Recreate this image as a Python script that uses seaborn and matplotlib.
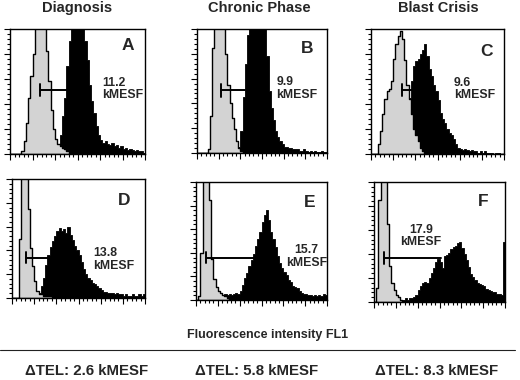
import numpy as np
import pandas as pd
import seaborn as sns
import matplotlib.pyplot as plt
from matplotlib.lines import Line2D
from matplotlib.ticker import MultipleLocator

# column titles and summary values
phases = ['Diagnosis', 'Chronic Phase', 'Blast Crisis']
delta_tel = [2.6, 5.8, 8.3]
letters = ['A', 'B', 'C', 'D', 'E', 'F']
mesf = [11.2, 9.9, 9.6, 13.8, 15.7, 17.9]

# histogram heights (60 channels, % of panel height)
gray_A = [0, 0, 0, 0, 0, 2, 10, 25, 45, 62,
          80, 105, 120, 125, 118, 105, 82, 58, 35, 20,
          12, 8, 6, 5, 4, 2, 0, 0, 0, 0,
          0, 0, 0, 0, 0, 0, 0, 0, 0, 0,
          0, 0, 0, 0, 0, 0, 0, 0, 0, 0,
          0, 0, 0, 0, 0, 0, 0, 0, 0, 0]
black_A = [0, 0, 0, 0, 0, 0, 0, 0, 0, 0,
           0, 0, 0, 0, 0, 0, 0, 0, 0, 0,
           0, 5, 15, 30, 45, 70, 90, 110, 125, 130,
           128, 120, 108, 90, 75, 55, 42, 33, 22, 15,
           11, 9, 10, 8, 7, 9, 6, 7, 5, 6,
           4, 5, 3, 4, 3, 2, 3, 2, 2, 1]
gray_B = [0, 0, 0, 0, 0, 3, 30, 85, 115, 125,
          130, 128, 120, 80, 55, 40, 28, 19, 10, 4,
          2, 0, 0, 0, 0, 0, 0, 0, 0, 0,
          0, 0, 0, 0, 0, 0, 0, 0, 0, 0,
          0, 0, 0, 0, 0, 0, 0, 0, 0, 0,
          0, 0, 0, 0, 0, 0, 0, 0, 0, 0]
black_B = [0, 0, 0, 0, 0, 0, 0, 0, 0, 0,
           0, 0, 0, 0, 0, 0, 0, 0, 0, 5,
           18, 45, 72, 95, 115, 125, 130, 135, 132, 128,
           120, 108, 78, 50, 36, 27, 18, 13, 10, 7,
           5, 5, 4, 4, 3, 3, 3, 2, 2, 3,
           2, 1, 2, 1, 2, 1, 1, 2, 1, 1]
gray_C = [0, 0, 0, 8, 18, 32, 44, 50, 52, 58,
          76, 88, 94, 98, 92, 75, 55, 44, 32, 20,
          15, 10, 5, 2, 0, 0, 0, 0, 0, 0,
          0, 0, 0, 0, 0, 0, 0, 0, 0, 0,
          0, 0, 0, 0, 0, 0, 0, 0, 0, 0,
          0, 0, 0, 0, 0, 0, 0, 0, 0, 0]
black_C = [0, 0, 0, 0, 0, 0, 0, 0, 0, 0,
           0, 0, 5, 10, 15, 22, 35, 45, 58, 70,
           74, 76, 80, 83, 88, 78, 68, 62, 55, 50,
           43, 33, 28, 25, 20, 17, 15, 12, 8, 5,
           4, 3, 4, 3, 2, 3, 2, 2, 1, 2,
           1, 2, 1, 1, 1, 0, 1, 1, 0, 0]
gray_D = [0, 0, 0, 50, 130, 135, 120, 75, 42, 27,
          14, 6, 3, 3, 2, 2, 2, 2, 1, 0,
          0, 0, 0, 0, 0, 0, 0, 0, 0, 0,
          0, 0, 0, 0, 0, 0, 0, 0, 0, 0,
          0, 0, 0, 0, 0, 0, 0, 0, 0, 0,
          0, 0, 0, 0, 0, 0, 0, 0, 0, 0]
black_D = [0, 0, 0, 0, 0, 0, 0, 0, 0, 0,
           0, 0, 4, 10, 17, 28, 36, 43, 48, 52,
           56, 59, 56, 58, 55, 60, 53, 49, 44, 40,
           36, 30, 24, 20, 17, 15, 13, 12, 10, 8,
           7, 5, 5, 4, 4, 4, 3, 4, 3, 3,
           2, 3, 2, 2, 3, 2, 2, 3, 2, 3]
gray_E = [0, 3, 40, 125, 135, 130, 85, 35, 18, 11,
          8, 6, 4, 3, 2, 0, 0, 0, 0, 0,
          0, 0, 0, 0, 0, 0, 0, 0, 0, 0,
          0, 0, 0, 0, 0, 0, 0, 0, 0, 0,
          0, 0, 0, 0, 0, 0, 0, 0, 0, 0,
          0, 0, 0, 0, 0, 0, 0, 0, 0, 0]
black_E = [0, 0, 0, 0, 0, 0, 0, 0, 0, 0,
           2, 3, 4, 5, 4, 5, 4, 5, 6, 5,
           8, 13, 19, 23, 29, 34, 39, 46, 52, 58,
           66, 72, 76, 68, 58, 52, 45, 37, 31, 27,
           24, 21, 17, 15, 12, 11, 10, 8, 6, 5,
           5, 4, 4, 3, 4, 3, 4, 3, 5, 4]
gray_F = [0, 12, 85, 125, 130, 120, 65, 30, 16, 10,
          6, 4, 2, 1, 0, 0, 0, 0, 0, 0,
          0, 0, 0, 0, 0, 0, 0, 0, 0, 0,
          0, 0, 0, 0, 0, 0, 0, 0, 0, 0,
          0, 0, 0, 0, 0, 0, 0, 0, 0, 0,
          0, 0, 0, 0, 0, 0, 0, 0, 0, 0]
black_F = [0, 0, 0, 0, 0, 0, 0, 0, 0, 0,
           0, 1, 2, 2, 3, 2, 3, 3, 4, 6,
           10, 13, 16, 17, 16, 20, 24, 28, 33, 36,
           33, 28, 38, 39, 41, 44, 46, 47, 49, 50,
           45, 40, 35, 29, 23, 21, 18, 16, 15, 14,
           13, 11, 10, 9, 8, 8, 7, 7, 6, 50]

# marker bars (channel from, channel to, height)
bar_from = [13.3, 11.2, 13.8, 6.4, 4.6, 4.6]
bar_to = [25.2, 22.0, 19.8, 16.8, 27.0, 30.9]
bar_y = [51, 50.5, 51, 34, 36, 37]

grays = [gray_A, gray_B, gray_C, gray_D, gray_E, gray_F]
blacks = [black_A, black_B, black_C, black_D, black_E, black_F]

sns.set_style('ticks')
plt.rcParams['font.family'] = ['Liberation Sans', 'DejaVu Sans']

W, H = 520, 380
fig = plt.figure(figsize=(W / 100, H / 100), dpi=100)

# panel boxes in pixels: left, top, right, bottom
boxes = [(10, 29, 145, 154), (197, 29, 327, 153), (371, 29, 504, 154),
         (12, 179, 145, 298), (196, 182, 327, 300), (374, 182, 505, 302)]
# text placement per panel: (x, y, ha) in data units, letter (x, y) in axes frac
label_pos = [(40.8, 52, 'left'), (36.6, 52, 'left'), (37.4, 52, 'left'),
             (36.6, 32, 'left'), (50.6, 37, 'center'), (21.6, 55, 'center')]
letter_pos = [(0.87, 0.87), (0.85, 0.84), (0.87, 0.82),
              (0.84, 0.82), (0.87, 0.83), (0.83, 0.84)]

centers = np.arange(60) + 0.5

for i in range(6):
    l, t, r, b = boxes[i]
    ax = fig.add_axes([l / W, 1 - b / H, (r - l) / W, (b - t) / H])
    df = pd.DataFrame({'channel': centers, 'black': blacks[i], 'gray': grays[i]})
    sns.histplot(data=df, x='channel', weights='black', binwidth=1, binrange=(0, 60),
                 element='step', fill=True, color='black', alpha=1,
                 edgecolor='black', linewidth=0.6, ax=ax)
    sns.histplot(data=df, x='channel', weights='gray', binwidth=1, binrange=(0, 60),
                 element='step', fill=True, color='#d3d3d3', alpha=1,
                 edgecolor='black', linewidth=1.0, ax=ax)
    ax.set(xlim=(0, 60), ylim=(0, 100), xlabel='', ylabel='')

    # marker bar
    ax.plot([bar_from[i], bar_to[i]], [bar_y[i], bar_y[i]], color='black', lw=1.4)
    ax.plot([bar_from[i], bar_from[i]], [bar_y[i] - 5, bar_y[i] + 5], color='black', lw=1.4)
    lx, ly, ha = label_pos[i]
    ax.text(lx, ly, f'{mesf[i]}\nkMESF', ha=ha, va='center', fontsize=8.8,
            fontweight='bold', linespacing=1.1, multialignment=ha)
    ax.text(*letter_pos[i], letters[i], transform=ax.transAxes, ha='center',
            va='center', fontsize=12.5, fontweight='bold')

    ax.xaxis.set_major_locator(MultipleLocator(10))
    ax.xaxis.set_minor_locator(MultipleLocator(2))
    ax.yaxis.set_major_locator(MultipleLocator(20))
    ax.yaxis.set_minor_locator(MultipleLocator(4))
    ax.tick_params(which='both', direction='out', labelbottom=False,
                   labelleft=False, width=0.8, color='black')
    ax.tick_params(which='major', length=4)
    ax.tick_params(which='minor', length=2.5)
    for s in ax.spines.values():
        s.set_visible(True)
        s.set_color('black')
        s.set_linewidth(1.0)

title_x = [77, 259, 438]
tel_x = [87, 257, 437]
for k in range(3):
    fig.text(title_x[k] / W, 1 - 8 / H, phases[k], ha='center', va='center',
             fontsize=10.5, fontweight='bold')
    fig.text(tel_x[k] / W, 1 - 371 / H, f'\u0394TEL: {delta_tel[k]} kMESF',
             ha='center', va='center', fontsize=10.8, fontweight='bold')

fig.text(268 / W, 1 - 335 / H, 'Fluorescence intensity FL1', ha='center',
         va='center', fontsize=9, fontweight='bold')
fig.add_artist(Line2D([0, 515 / W], [1 - 350 / H, 1 - 350 / H],
                      color='#222222', lw=0.8))

fig.savefig('out.png', dpi=100, facecolor='white')
